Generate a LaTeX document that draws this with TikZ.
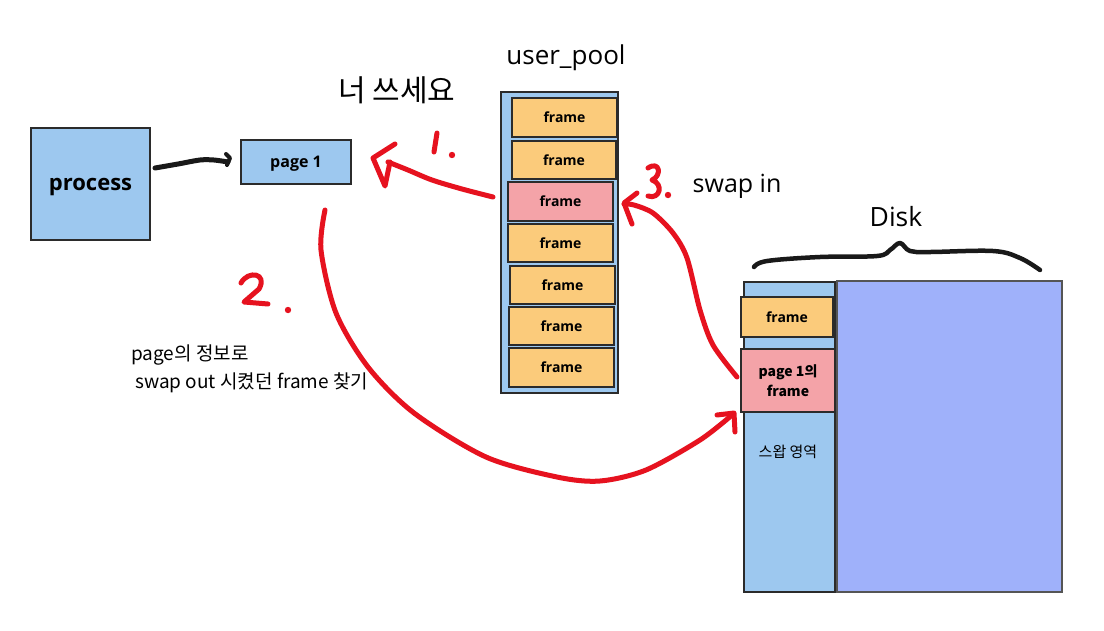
\documentclass[tikz,border=0pt]{standalone}
\usepackage{fontspec}
\setmainfont{Open Sans}
\newfontfamily\kr{Noto Sans CJK KR}
\definecolor{lblue}{HTML}{9DC8EF}
\definecolor{forange}{HTML}{FBCB7B}
\definecolor{fpink}{HTML}{F4A3A8}
\definecolor{disk}{HTML}{9FB1FA}
\definecolor{pen}{HTML}{E6121F}
\definecolor{edge}{HTML}{2B2B2B}
\begin{document}
\begin{tikzpicture}[x=1pt,y=-1pt,
  box/.style={draw=edge,line width=2pt,inner sep=0pt,anchor=center},
  bluebox/.style={box,fill=lblue},
  framebox/.style={box,fill=forange,minimum width=105pt,minimum height=38pt,font=\fontsize{14}{16}\selectfont\bfseries},
  pinkbox/.style={box,fill=fpink},
  redpen/.style={draw=pen,line width=5pt,line cap=round,line join=round},
  blackpen/.style={draw=black!90,line width=5pt,line cap=round,line join=round},
  lbl/.style={inner sep=0pt,anchor=center}]
\useasboundingbox (0,0) rectangle (1104,630);
\fill[white] (0,0) rectangle (1104,630);

% left side
\node[bluebox,minimum width=119pt,minimum height=112pt,text depth=0pt,font=\fontsize{22}{26}\selectfont\bfseries] (process) at (90.5,184) {process};
\node[bluebox,minimum width=110pt,minimum height=44pt,text depth=0pt,font=\fontsize{16}{19}\selectfont\bfseries] (page1) at (296,162) {page 1};

% user pool
\node[lbl,font=\fontsize{26}{30}\selectfont] (pooltitle) at (566,58) {user\_pool};
\node[bluebox,minimum width=117pt,minimum height=301pt] (pool) at (559.5,242.5) {};
\node[framebox,minimum height=39pt] (f1) at (564.5,117.5) {frame};
\node[framebox,minimum width=104pt] (f2) at (564,160) {frame};
\node[framebox,fill=fpink,minimum height=39pt] (f3) at (560.5,201.5) {frame};
\node[framebox] (f4) at (560.5,243) {frame};
\node[framebox] (f5) at (562.5,285) {frame};
\node[framebox] (f6) at (561.5,326) {frame};
\node[framebox,minimum height=39pt] (f7) at (561.5,367.5) {frame};

% disk
\node[lbl,font=\fontsize{26.5}{30}\selectfont] (disktitle) at (896,217) {Disk};
\node[bluebox,minimum width=91pt,minimum height=310pt] (swaparea) at (789.5,437) {};
\node[box,fill=disk,draw=edge!80,minimum width=225pt,minimum height=311pt] (diskbox) at (949.5,436.5) {};
\node[framebox,minimum width=92pt,minimum height=40pt] (dframe) at (787,317) {frame};
\node[pinkbox,minimum width=94pt,minimum height=63pt,align=center,font=\kr\fontsize{14}{20}\selectfont\bfseries] (dpage) at (788,380.5) {page 1의\\frame};
\node[lbl,font=\kr\fontsize{15}{17}\selectfont] (swaplbl) at (788,452) {스왑 영역};

% labels
\node[lbl,font=\kr\fontsize{30}{34}\selectfont] (useit) at (397,90) {너 쓰세요};
\node[lbl,font=\fontsize{25}{29}\selectfont] (swapin) at (737,186) {swap in};
\node[inner sep=0pt,anchor=west,align=left,font=\kr\fontsize{19}{28}\selectfont] (note) at (131,369) {page의 정보로\\\hspace*{4pt}swap out 시켰던 frame 찾기};

% brace over disk
\coordinate (bl) at (754,267);
\coordinate (br) at (1040,270);
\draw[blackpen,line width=4.5pt] plot[smooth,tension=0.6] coordinates {(bl) (767,261) (820,257) (877,256) (890,250) (900,243) (910,251) (930,252) (993,251) (1020,258) (br)};

% black arrow process -> page 1
\draw[blackpen] plot[smooth] coordinates {(155,168) (178,164) (200,160) (214,160) (228,162)};
\draw[blackpen,line width=4pt] (226,154) -- (230,158) -- (227,165);

% red arrow 1: pool frame -> page 1
\coordinate (a1s) at (493,197);
\draw[redpen] plot[smooth] coordinates {(a1s) (462,189) (432,180) (408,170) (388,162)};
\draw[redpen] (395,144) -- (373,158) -- (385,186) -- (390,162);
\draw[redpen] (437,133) -- (434,152);
\fill[pen] (452,155) circle (3.2pt);

% red arrow 2: page 1 -> disk frame
\coordinate (a2s) at (325,210);
\draw[redpen] plot[smooth] coordinates {(a2s) (321,250) (336,313) (368,367) (414,413) (486,457) (557,477) (600,481) (646,470) (700,440) (732,415)};
\draw[redpen] (717,415) -- (734,413) -- (735,432);
\draw[redpen] (241,283) .. controls (248,270) and (268,273) .. (259,289) -- (244,302) -- (268,304);
\fill[pen] (288,310) circle (3.2pt);

% red arrow 3: disk frame -> pool frame
\draw[redpen] plot[smooth] coordinates {(737,377) (713,345) (700,310) (687,258) (673,233) (653,213) (634,205) (624,204)};
\draw[redpen] (637,193) -- (624,203) -- (632,224);
\draw[redpen] (648,168) .. controls (660,160) and (662,176) .. (652,180) .. controls (664,184) and (660,200) .. (648,196);
\fill[pen] (668,195) circle (3.2pt);
\end{tikzpicture}
\end{document}
